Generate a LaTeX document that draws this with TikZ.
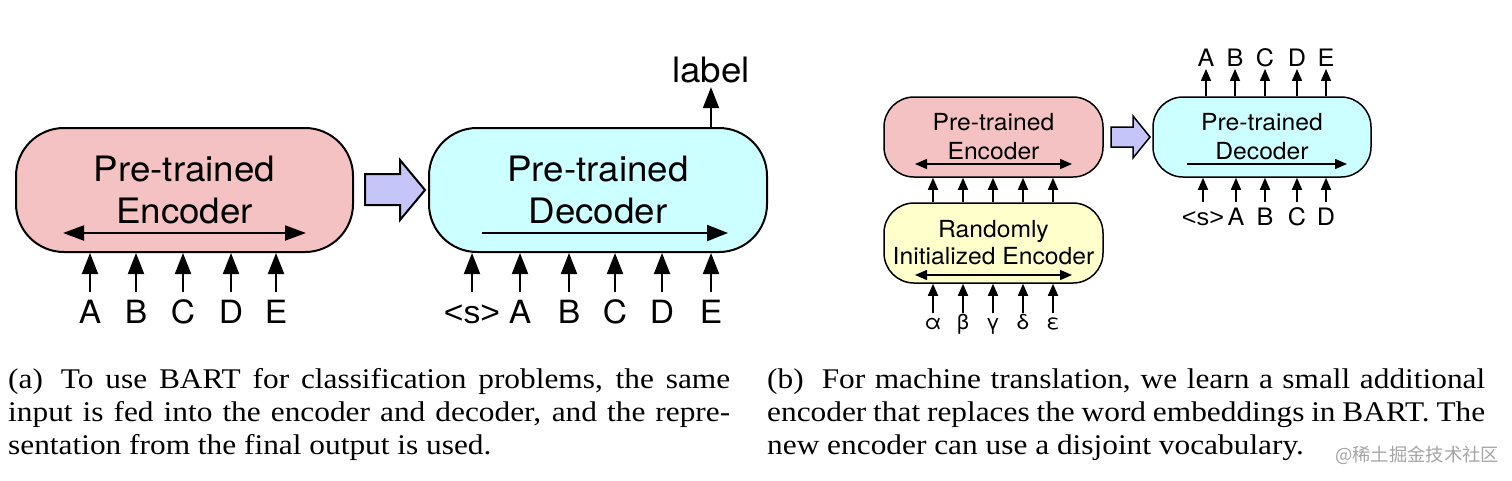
\documentclass[tikz,border=0pt]{standalone}
\usepackage{fontspec}
\setmainfont{Liberation Serif}
\newfontfamily\capfont{Liberation Serif}[FakeStretch=1.1]
\newfontfamily\diagfont{TeX Gyre Heros}[FakeStretch=1.05]
\newfontfamily\ltfont{Liberation Sans}[FakeStretch=1.05]
\newfontfamily\cjkfont{Noto Sans CJK SC}
\usetikzlibrary{arrows.meta}
\definecolor{encpink}{RGB}{244,194,194}
\definecolor{deccyan}{RGB}{204,255,255}
\definecolor{randyellow}{RGB}{255,255,204}
\definecolor{blockblue}{RGB}{197,197,250}
\definecolor{wmgray}{RGB}{165,165,165}
\tikzset{
 bigbox/.style={draw=black, line width=2pt, rounded corners=48pt, minimum width=337pt, minimum height=124pt, inner sep=0pt, align=center, font=\diagfont\fontsize{35}{42}\selectfont},
 smallbox/.style={draw=black, line width=1.5pt, rounded corners=30pt, minimum width=219pt, minimum height=80pt, inner sep=0pt, align=center, font=\diagfont\fontsize{23.5}{29}\selectfont},
 bigarr/.style={line width=2pt, -{Triangle[length=21pt,width=16pt]}},
 bigdarr/.style={line width=2pt, {Triangle[length=21pt,width=15pt]}-{Triangle[length=21pt,width=15pt]}},
 smallarr/.style={line width=1.5pt, -{Triangle[length=12pt,width=10pt]}},
 smalldarr/.style={line width=1.5pt, {Triangle[length=12pt,width=10pt]}-{Triangle[length=12pt,width=10pt]}},
 biglbl/.style={font=\diagfont\fontsize{32}{32}\selectfont, text height=23pt, text depth=0pt, inner xsep=1pt, inner ysep=8pt},
 toplbl/.style={font=\diagfont\fontsize{24}{24}\selectfont, text height=17.5pt, text depth=0pt, inner xsep=1pt, inner ysep=2pt},
 botlbl/.style={font=\diagfont\fontsize{24}{24}\selectfont, text height=17.5pt, text depth=0pt, inner xsep=1pt, inner ysep=6pt},
 greeklbl/.style={font=\diagfont\fontsize{21}{21}\selectfont, text height=11pt, text depth=0pt, inner xsep=1pt, inner ysep=5pt},
 captext/.style={font=\capfont\fontsize{28.5}{33}\selectfont, inner sep=0pt, anchor=base west},
 block/.style={draw=black, fill=blockblue, line join=miter},
}
\begin{document}
\begin{tikzpicture}[x=1pt,y=-1pt]
\fill[white] (0,0) rectangle (1512,480);
\useasboundingbox (0,0) rectangle (1512,480);

% ---------- (a) ----------
\node[bigbox, fill=encpink] (enc) at (184.5,190) {Pre-trained\\Encoder};
\node[bigbox, fill=deccyan, minimum width=338pt] (dec) at (598,190) {Pre-trained\\Decoder};
\filldraw[block, line width=2pt] (365,174) -- (400,174) -- (400,160) -- (425,190) -- (400,220) -- (400,205) -- (365,205) -- cycle;

\coordinate (encL) at (63,233);
\coordinate (encR) at (306,233);
\draw[bigdarr] (encL) -- (encR);
\coordinate (decL) at (482,233);
\coordinate (decR) at (728,233);
\draw[bigarr] (decL) -- (decR);

\foreach \n/\x/\t in {a/90/A, b/136/B, c/183/C, d/231/D, e/276/E}{
  \node[biglbl] (i\n) at (\x,312) {\t};
  \draw[bigarr] (i\n.north) -- (i\n.north |- enc.south);
}
\foreach \n/\x/\t in {s/472/{{\ltfont <s>}}, a/520/A, b/569/B, c/615/C, d/662/D, e/711/E}{
  \node[biglbl] (j\n) at (\x,312) {\t};
  \draw[bigarr] (j\n.north) -- (j\n.north |- dec.south);
}
\node[font=\diagfont\fontsize{35}{35}\selectfont, text height=26pt, text depth=0pt, inner xsep=1pt, inner ysep=5pt] (lbl) at (711,69) {label};
\draw[bigarr] (lbl.south |- dec.north) -- (lbl.south);

% ---------- (b) ----------
\node[smallbox, fill=encpink] (penc) at (993.5,137) {Pre-trained\\Encoder};
\node[smallbox, fill=randyellow, font=\diagfont\fontsize{23.5}{27}\selectfont] (rand) at (993.5,243) {Randomly\\Initialized Encoder};
\node[smallbox, fill=deccyan, minimum width=218pt] (dec2) at (1262,137) {Pre-trained\\Decoder};
\filldraw[block, line width=1.5pt] (1111,127) -- (1133,127) -- (1133,116) -- (1150,137) -- (1133,158) -- (1133,147) -- (1111,147) -- cycle;

\coordinate (pencL) at (915,164);
\coordinate (pencR) at (1072,164);
\draw[smalldarr] (pencL) -- (pencR);
\coordinate (randL) at (915,275);
\coordinate (randR) at (1072,275);
\draw[smalldarr] (randL) -- (randR);
\coordinate (dec2L) at (1187,164);
\coordinate (dec2R) at (1347,164);
\draw[smallarr] (dec2L) -- (dec2R);

\foreach \n/\x/\t in {a/933/α, b/963/β, c/993/γ, d/1023/δ, e/1053/ε}{
  \node[greeklbl] (g\n) at (\x,324) {\t};
  \draw[smallarr] (g\n.north) -- (g\n.north |- rand.south);
  \draw[smallarr] (g\n.north |- rand.north) -- (g\n.north |- penc.south);
}
\foreach \n/\x/\t in {s/1203/{{\ltfont <s>}}, a/1236/A, b/1265/B, c/1297/C, d/1326/D}{
  \node[botlbl] (k\n) at (\x,217) {\t};
  \draw[smallarr] (k\n.north) -- (k\n.north |- dec2.south);
}
\foreach \n/\x/\t in {a/1206/A, b/1235/B, c/1265/C, d/1297/D, e/1326/E}{
  \node[toplbl] (o\n) at (\x,58) {\t};
  \draw[smallarr] (o\n.south |- dec2.north) -- (o\n.south);
}

% ---------- captions ----------
\node[captext] (ca1) at (8,388) {\makebox[722pt][s]{(a)\hspace{18pt}To use BART for classification problems, the same}};
\node[captext] (ca2) at (8,421) {\makebox[722pt][s]{input is fed into the encoder and decoder, and the repre-}};
\node[captext] (ca3) at (8,454) {sentation from the final output is used.};
\node[captext] (cb1) at (767,388) {\makebox[718pt][s]{(b)\hspace{18pt}For machine translation, we learn a small additional}};
\node[captext] (cb2) at (767,421) {\makebox[718pt][s]{encoder that replaces the word embeddings in BART. The}};
\node[captext] (cb3) at (767,454) {new encoder can use a disjoint vocabulary.};
\node[anchor=west, inner sep=0pt, text=wmgray, font=\cjkfont\fontsize{18.3}{18.3}\selectfont] (wm) at (1335,455) {@稀土掘金技术社区};
\end{tikzpicture}
\end{document}
